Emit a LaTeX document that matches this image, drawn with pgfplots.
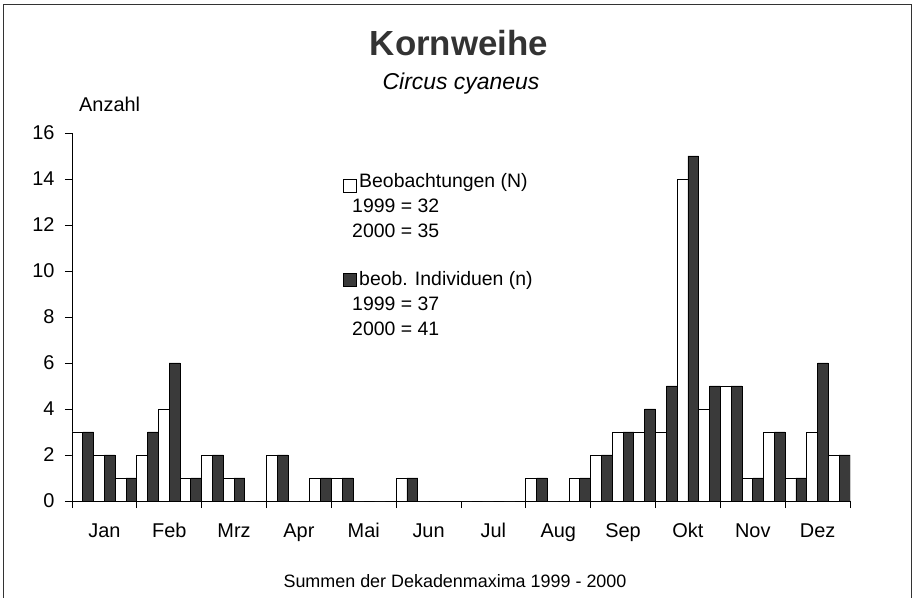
\documentclass[border=0pt]{standalone}
\usepackage{pgfplots}
\pgfplotsset{compat=1.18}
\usepackage{pgfplotstable}
\usepackage{fontspec}
\setmainfont{Liberation Sans}

\definecolor{dunkel}{HTML}{3A3A3A}

% Dekaden 0..35 (3 je Monat): N = Beobachtungen, n = Individuen
\pgfplotstableread{
d N n
0 3 3
1 2 2
2 1 1
3 2 3
4 4 6
5 1 1
6 2 2
7 1 1
8 0 0
9 2 2
10 0 0
11 1 1
12 1 1
13 0 0
14 0 0
15 1 1
16 0 0
17 0 0
18 0 0
19 0 0
20 0 0
21 1 1
22 0 0
23 1 1
24 2 2
25 3 3
26 3 4
27 3 5
28 14 15
29 4 5
30 5 5
31 1 1
32 3 3
33 1 1
34 3 6
35 2 2
}\dekaden

\newcommand{\lab}{\fontsize{20}{22}\selectfont}

\begin{document}
\begin{tikzpicture}
\path[use as bounding box] (-72bp,-97bp) rectangle (844bp,501bp);

\begin{axis}[
  scale only axis,
  width=778bp, height=368bp,
  xmin=0, xmax=36, ymin=0, ymax=16,
  axis lines*=left,
  axis line style={line width=0.8bp},
  xtick={0,3,...,36},
  xticklabels={Jan,Feb,Mrz,Apr,Mai,Jun,Jul,Aug,Sep,Okt,Nov,Dez},
  x tick label as interval,
  ytick={0,2,...,16},
  tick align=outside,
  major tick length=7bp,
  tick style={black, line width=0.8bp},
  ticklabel style={font=\lab},
  xticklabel style={text height=14bp, text depth=4bp, yshift=-12bp},
  yticklabel style={xshift=-7bp},
  /pgf/number format/assume math mode=true,
  ybar, bar width=0.5, bar shift=0,
]
\addplot[draw=black, fill=white, line width=0.8bp]
  table[x expr=\thisrow{d}+0.25, y=N] {\dekaden};
\addplot[draw=black, fill=dunkel, line width=0.8bp]
  table[x expr=\thisrow{d}+0.75, y=n] {\dekaden};
\end{axis}

% Rahmen (unten offen)
\draw[line width=1bp, black!80] (-68bp,-97bp) -- (-68bp,496bp) -- (839bp,496bp) -- (839bp,-97bp);

% Titel
\node[font=\fontsize{35}{38}\selectfont\bfseries, text=black!80] at (387bp,458bp) {Kornweihe};
\node[font=\fontsize{23}{26}\selectfont\itshape] at (389bp,417bp) {Circus cyaneus};
\node[anchor=base west, inner sep=0, font=\lab] at (7bp,389bp) {Anzahl};
\node[anchor=base, inner sep=0, font=\fontsize{18}{20}\selectfont] at (383bp,-86bp) {Summen der Dekadenmaxima 1999 - 2000};

% Legende
\draw[line width=0.8bp, fill=white] (271bp,309bp) rectangle ++(13bp,13bp);
\draw[line width=0.8bp, fill=dunkel] (271bp,215bp) rectangle ++(13bp,13bp);
\begin{scope}[every node/.style={anchor=base west, inner sep=0, font=\fontsize{19.5}{22}\selectfont}]
\node at (287bp,313bp) {Beobachtungen\ (N)};
\node at (280bp,288bp) {1999 = 32};
\node at (280bp,263bp) {2000 = 35};
\node at (287bp,215bp) {beob. Individuen (n)};
\node at (280bp,190bp) {1999 = 37};
\node at (280bp,165bp) {2000 = 41};
\end{scope}
\end{tikzpicture}
\end{document}
